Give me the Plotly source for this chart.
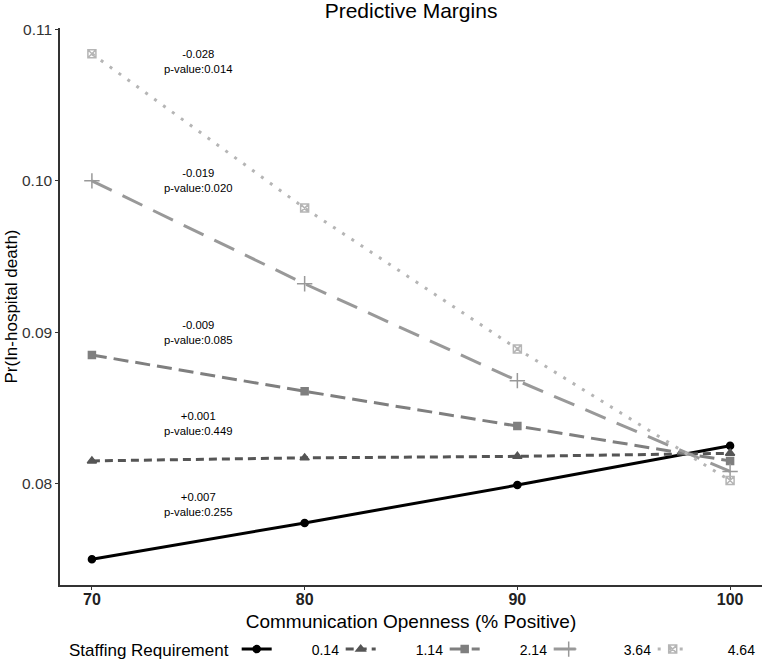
import plotly.graph_objects as go

# data
openness = [70, 80, 90, 100]
staffing_levels = ["0.14", "1.14", "2.14", "3.64", "4.64"]
margins_014 = [0.0750, 0.0774, 0.0799, 0.0825]
margins_114 = [0.0815, 0.0817, 0.0818, 0.0820]
margins_214 = [0.0885, 0.0861, 0.0838, 0.0815]
margins_364 = [0.1000, 0.0932, 0.0868, 0.0808]
margins_464 = [0.1084, 0.0982, 0.0889, 0.0802]
slope_labels = ["+0.007", "+0.001", "-0.009", "-0.019", "-0.028"]
pvalue_labels = ["0.255", "0.449", "0.085", "0.020", "0.014"]
label_y = [0.0786, 0.0840, 0.0900, 0.1000, 0.1079]

series = [margins_014, margins_114, margins_214, margins_364, margins_464]
styles = [
  {"color": "#000000", "dash": "solid", "symbol": "circle", "size": 7},
  {"color": "#555555", "dash": "8px,5px", "symbol": "triangle-up", "size": 8},
  {"color": "#7f7f7f", "dash": "15px,7px", "symbol": "square", "size": 7},
  {"color": "#999999", "dash": "22px,12px", "symbol": "cross-thin-open", "size": 11},
  {"color": "#b5b5b5", "dash": "3px,8px", "symbol": "square-x-open", "size": 8},
]

# padding so legend labels sit further from their line samples, like ggplot
pad = "\u00a0" * 9

fig = go.Figure()

for name, vals, st in zip(staffing_levels, series, styles):
  fig.add_trace(go.Scatter(
    x=openness,
    y=vals,
    name=pad + name,
    mode="lines+markers",
    line={"color": st["color"], "dash": st["dash"], "width": 3},
    marker={"color": st["color"], "symbol": st["symbol"], "size": st["size"],
            "line": {"color": st["color"], "width": 1.5}},
  ))

for slope, pval, yy in zip(slope_labels, pvalue_labels, label_y):
  fig.add_annotation(
    x=75.0, y=yy,
    text=f"{slope}<br>p-value:{pval}",
    showarrow=False,
    font={"size": 11.3, "color": "#000000"},
    align="center",
  )

fig.update_layout({
  "width": 764,
  "height": 663,
  "paper_bgcolor": "white",
  "plot_bgcolor": "white",
  "font": {"family": "Liberation Sans, Arial, sans-serif", "color": "#000000"},
  "title": {"text": "Predictive Margins", "x": 0.538, "xanchor": "center",
            "y": 0.984, "yanchor": "middle", "font": {"size": 21}},
  "margin": {"l": 60, "r": 2, "t": 28, "b": 78},
  "xaxis": {
    "range": [68.5, 101.5],
    "tickvals": openness,
    "tickfont": {"size": 16, "family": "Liberation Sans, Arial, sans-serif", "color": "#222222", "weight": "bold"},
    "showgrid": False,
    "zeroline": False,
    "showline": True,
    "linecolor": "#333333",
    "linewidth": 1.5,
    "ticks": "outside",
    "ticklen": 3,
    "tickcolor": "#333333",
    "ticklabelstandoff": -4,
    "automargin": False,
    "title": {"text": "Communication Openness (% Positive)", "font": {"size": 19}, "standoff": 8},
  },
  "yaxis": {
    "range": [0.0733, 0.1101],
    "tickvals": [0.08, 0.09, 0.10, 0.11],
    "ticktext": ["0.08", "0.09", "0.10", "0.11"],
    "tickfont": {"size": 15.5, "color": "#333333"},
    "showgrid": False,
    "zeroline": False,
    "showline": True,
    "linecolor": "#333333",
    "linewidth": 1.5,
    "ticks": "outside",
    "ticklen": 3,
    "tickcolor": "#333333",
    "automargin": False,
    "title": {"text": "Pr(In-hospital death)", "font": {"size": 17}, "standoff": 0},
  },
  "legend": {
    "orientation": "h",
    "x": 0.01,
    "xanchor": "left",
    "yref": "container",
    "y": 0.0196,
    "yanchor": "middle",
    "title": {"text": "Staffing Requirement", "font": {"size": 17}, "side": "left"},
    "font": {"size": 14},
    "entrywidth": 59,
    "entrywidthmode": "pixels",
  },
  "showlegend": True,
})

fig.write_html(
  "out.html",
  config={"displayModeBar": False},
  post_script="document.body.style.margin = '0px';",
)
